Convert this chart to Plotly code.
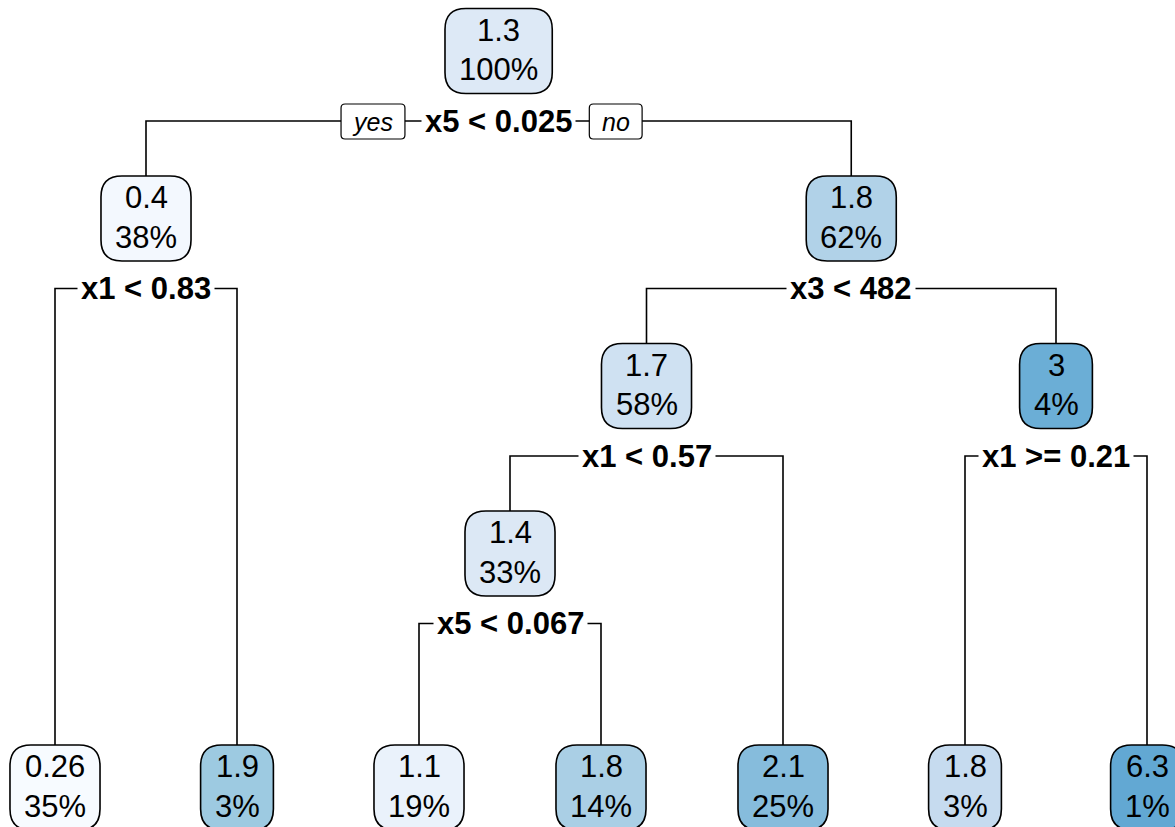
import math
import plotly.graph_objects as go

# ---------------- data ----------------
node_ids = [1, 2, 3, 4, 5, 6, 7, 12, 13, 14, 15, 24, 25]
node_values = ["1.3", "0.4", "1.8", "0.26", "1.9", "1.7", "3", "1.4", "2.1", "1.8", "6.3", "1.1", "1.8"]
node_pcts = ["100%", "38%", "62%", "35%", "3%", "58%", "4%", "33%", "25%", "3%", "1%", "19%", "14%"]
split_nodes = [1, 2, 3, 6, 7, 12]
split_labels = ["x5 < 0.025", "x1 < 0.83", "x3 < 482", "x1 < 0.57", "x1 >= 0.21", "x5 < 0.067"]
branch_labels = ["yes", "no"]

# ---------------- style ----------------
fill_colors = {
    1: "#DDE9F6", 2: "#F3F8FE", 3: "#B1D2E8", 4: "#F7FBFF", 5: "#9DCAE1",
    6: "#CFE1F2", 7: "#6BAED6", 12: "#DCE8F5", 13: "#86BCDC", 14: "#C6DBEF",
    15: "#62A8D3", 24: "#EAF2FB", 25: "#AACFE5",
}
W, H = 1175, 827
FONT = "Arial, Liberation Sans, sans-serif"
NODE_FS = 31
LABEL_FS = 31
YN_FS = 25
X0, DX = 55, 182          # leaf spacing
Y0, DY = 51, 167.5        # depth spacing
Y_LEAF = 787.5
BOX_H = 85
BOX_PAD = 28
RADIUS = 21
LW = 1.6

# approximate Arial advance widths (em)
ADV = {"0": .556, "1": .556, "2": .556, "3": .556, "4": .556, "5": .556, "6": .556,
       "7": .556, "8": .556, "9": .556, ".": .278, "%": .889, " ": .278, "<": .584,
       ">": .584, "=": .584, "x": .556, "y": .5, "e": .556, "s": .5, "n": .556, "o": .556}


def tw(s, fs):
    return sum(ADV.get(c, .556) for c in s) * fs


val = dict(zip(node_ids, node_values))
pct = dict(zip(node_ids, node_pcts))
split = dict(zip(split_nodes, split_labels))

# ---------------- layout of the tree ----------------
leaves = []


def inorder(n):
    if n in split:
        inorder(2 * n)
        inorder(2 * n + 1)
    else:
        leaves.append(n)


inorder(1)
xpos, ypos = {}, {}
for i, n in enumerate(leaves):
    xpos[n] = X0 + i * DX


def place(n):
    d = int(math.log2(n))
    if n in split:
        place(2 * n)
        place(2 * n + 1)
        xpos[n] = (xpos[2 * n] + xpos[2 * n + 1]) / 2
        ypos[n] = Y0 + d * DY
    else:
        ypos[n] = Y_LEAF


place(1)


def rrect(x0, y0, x1, y1, r):
    return (f"M {x0+r},{y0} L {x1-r},{y0} Q {x1},{y0} {x1},{y0+r} "
            f"L {x1},{y1-r} Q {x1},{y1} {x1-r},{y1} L {x0+r},{y1} "
            f"Q {x0},{y1} {x0},{y1-r} L {x0},{y0+r} Q {x0},{y0} {x0+r},{y0} Z")


fig = go.Figure()
shapes, annots = [], []

# branches
lx, ly = [], []
for n in split_nodes:
    l, r = 2 * n, 2 * n + 1
    yl = ypos[n] + 70
    lx += [xpos[l], xpos[l], xpos[r], xpos[r], None]
    ly += [ypos[l] - BOX_H / 2, yl, yl, ypos[r] - BOX_H / 2, None]
fig.add_trace(go.Scatter(x=lx, y=ly, mode="lines", line=dict(color="black", width=LW),
                         hoverinfo="skip", showlegend=False))

# node boxes and texts
for n in node_ids:
    w = max(tw(val[n], NODE_FS), tw(pct[n], NODE_FS)) + BOX_PAD
    x, y = xpos[n], ypos[n]
    shapes.append(dict(type="path", path=rrect(x - w / 2, y - BOX_H / 2, x + w / 2, y + BOX_H / 2, RADIUS),
                       fillcolor=fill_colors[n], line=dict(color="black", width=LW), layer="above"))
    annots.append(dict(x=x, y=y - 21, text=val[n], showarrow=False,
                       font=dict(size=NODE_FS, color="black", family=FONT), yanchor="middle"))
    annots.append(dict(x=x, y=y + 18.5, text=pct[n], showarrow=False,
                       font=dict(size=NODE_FS, color="black", family=FONT), yanchor="middle"))

# split labels
for n in split_nodes:
    annots.append(dict(x=xpos[n], y=ypos[n] + 70, text=f"<b>{split[n]}</b>", showarrow=False,
                       font=dict(size=LABEL_FS, color="black", family=FONT), yanchor="middle",
                       bgcolor="white", borderpad=3))

# yes / no boxes at root split
rx, ry = xpos[1], ypos[1] + 70.5
half = tw(split[1], LABEL_FS) / 2
for k, lab in enumerate(branch_labels):
    bw = tw(lab, YN_FS) + 25
    if k == 0:
        cx = rx - half - 20 - bw / 2
    else:
        cx = rx + half + 17 + bw / 2
    shapes.append(dict(type="path", path=rrect(cx - bw / 2, ry - 17.5, cx + bw / 2, ry + 17.5, 4),
                       fillcolor="white", line=dict(color="black", width=1.2), layer="above"))
    annots.append(dict(x=cx, y=ry, text=f"<i>{lab}</i>", showarrow=False,
                       font=dict(size=YN_FS, color="black", family=FONT), yanchor="middle"))

fig.update_layout(
    width=W, height=H, margin=dict(l=0, r=0, t=0, b=0),
    paper_bgcolor="white", plot_bgcolor="white",
    xaxis=dict(range=[0, W], visible=False, fixedrange=True),
    yaxis=dict(range=[H, 0], visible=False, fixedrange=True),
    shapes=shapes, annotations=annots, showlegend=False,
)
fig.write_html("out.html", config={"displayModeBar": False},
               post_script="document.body.style.margin='0';document.body.style.overflow='hidden';")
